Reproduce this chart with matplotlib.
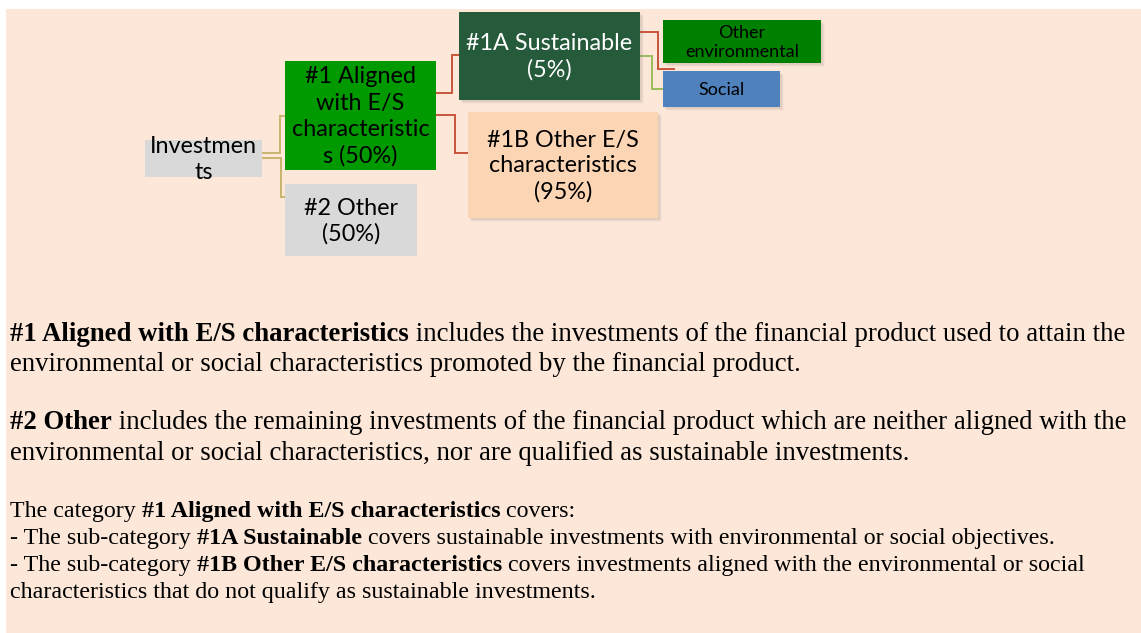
import matplotlib
matplotlib.use("Agg")
import matplotlib.pyplot as plt
from matplotlib.patches import Rectangle

# ---- data ----
root_label = "Investmen\nts"
level1_labels = ["#1 Aligned\nwith E/S\ncharacteristic\ns (50%)", "#2 Other\n(50%)"]
level1_shares = [50, 50]
level2_labels = ["#1A Sustainable\n(5%)", "#1B Other E/S\ncharacteristics\n(95%)"]
level2_shares = [5, 95]
level3_labels = ["Other\nenvironmental", "Social"]

para1 = [("#1 Aligned with E/S characteristics", True),
         (" includes the investments of the financial product used to attain the", False)]
para1b = [("environmental or social characteristics promoted by the financial product.", False)]
para2 = [("#2 Other", True),
         (" includes the remaining investments of the financial product which are neither aligned with the", False)]
para2b = [("environmental or social characteristics, nor are qualified as sustainable investments.", False)]
para3 = [
    [("The category ", False), ("#1 Aligned with E/S characteristics", True), (" covers:", False)],
    [("- The sub-category ", False), ("#1A Sustainable", True),
     (" covers sustainable investments with environmental or social objectives.", False)],
    [("- The sub-category ", False), ("#1B Other E/S characteristics", True),
     (" covers investments aligned with the environmental or social", False)],
    [("characteristics that do not qualify as sustainable investments.", False)],
]

W, H = 1141, 633
fig = plt.figure(figsize=(W / 100, H / 100), dpi=100)
ax = fig.add_axes([0, 0, 1, 1])
ax.set_xlim(0, W)
ax.set_ylim(H, 0)
ax.axis("off")
fig.patch.set_facecolor("white")

BG = "#fce7d9"
ax.add_patch(Rectangle((6, 9), W - 6, H - 9, facecolor=BG, edgecolor="none", zorder=0))

DIA_FONT = ["Lato", "DejaVu Sans"]
TXT_FONT = ["Liberation Serif", "DejaVu Serif"]


def box(x0, x1, y0, y1, color, label, tcolor="black", size=15, ls=1.0, shadow=True):
    if shadow:
        for i, a in enumerate([0.10, 0.07, 0.04]):
            ax.add_patch(Rectangle((x0 + 2 + i, y0 + 2 + i), x1 - x0, y1 - y0,
                                   facecolor="#7a6a60", alpha=a, edgecolor="none", zorder=2))
    ax.add_patch(Rectangle((x0, y0), x1 - x0, y1 - y0, facecolor=color, edgecolor="none", zorder=3))
    ax.text((x0 + x1) / 2, (y0 + y1) / 2 + 1, label, ha="center", va="center", color=tcolor,
            fontsize=size, family=DIA_FONT, linespacing=ls, zorder=4)


def elbow(x0, y0, xm, y1, x1, color):
    ax.plot([x0, xm, xm, x1], [y0, y0, y1, y1], color=color, lw=1.4, zorder=1.5,
            solid_joinstyle="miter")


# connectors
KH = "#c8b46a"
RD = "#c9553a"
GR = "#9bbb59"
elbow(262, 153, 280, 116, 285, KH)
elbow(262, 158, 281, 197, 285, KH)
elbow(436, 93, 452, 55, 459, RD)
elbow(436, 115, 455, 153, 468, RD)
elbow(640, 32, 658, 69, 674, RD)
elbow(640, 56, 652, 89, 663, GR)

# boxes
box(145, 262, 140, 177, "#d9d9d9", root_label, size=16.8, ls=1.24, shadow=False)
box(285, 436, 61, 170, "#009900", level1_labels[0], size=16.8, ls=1.31, shadow=False)
box(285, 417, 184, 256, "#d9d9d9", level1_labels[1], size=16.8, ls=1.24, shadow=False)
box(459, 640, 12, 100, "#255a3a", level2_labels[0], tcolor="white", size=16.8, ls=1.27)
box(468, 658, 112, 218, "#fcd5b5", level2_labels[1], size=16.8, ls=1.26)
box(663, 821, 20, 63, "#008000", level3_labels[0], size=13, ls=1.22)
box(663, 780, 71, 107, "#4f81bd", level3_labels[1], size=13)

# text paragraphs
fig.canvas.draw()
renderer = fig.canvas.get_renderer()
inv = ax.transData.inverted()


def rich_line(segments, x, y, size):
    cur = x
    for s, bold in segments:
        t = ax.text(cur, y, s, ha="left", va="baseline", fontsize=size, family=TXT_FONT,
                    fontweight="bold" if bold else "normal", color="black", zorder=5)
        bb = t.get_window_extent(renderer=renderer)
        cur = inv.transform((bb.x1, bb.y0))[0]


S1 = 19.3
rich_line(para1, 10, 341, S1)
rich_line(para1b, 10, 371, S1)
rich_line(para2, 10, 429, S1)
rich_line(para2b, 10, 460, S1)
S3 = 17.3
for i, line in enumerate(para3):
    rich_line(line, 10, 517 + 27 * i, S3)

fig.savefig("out.png", dpi=100, facecolor="white")
